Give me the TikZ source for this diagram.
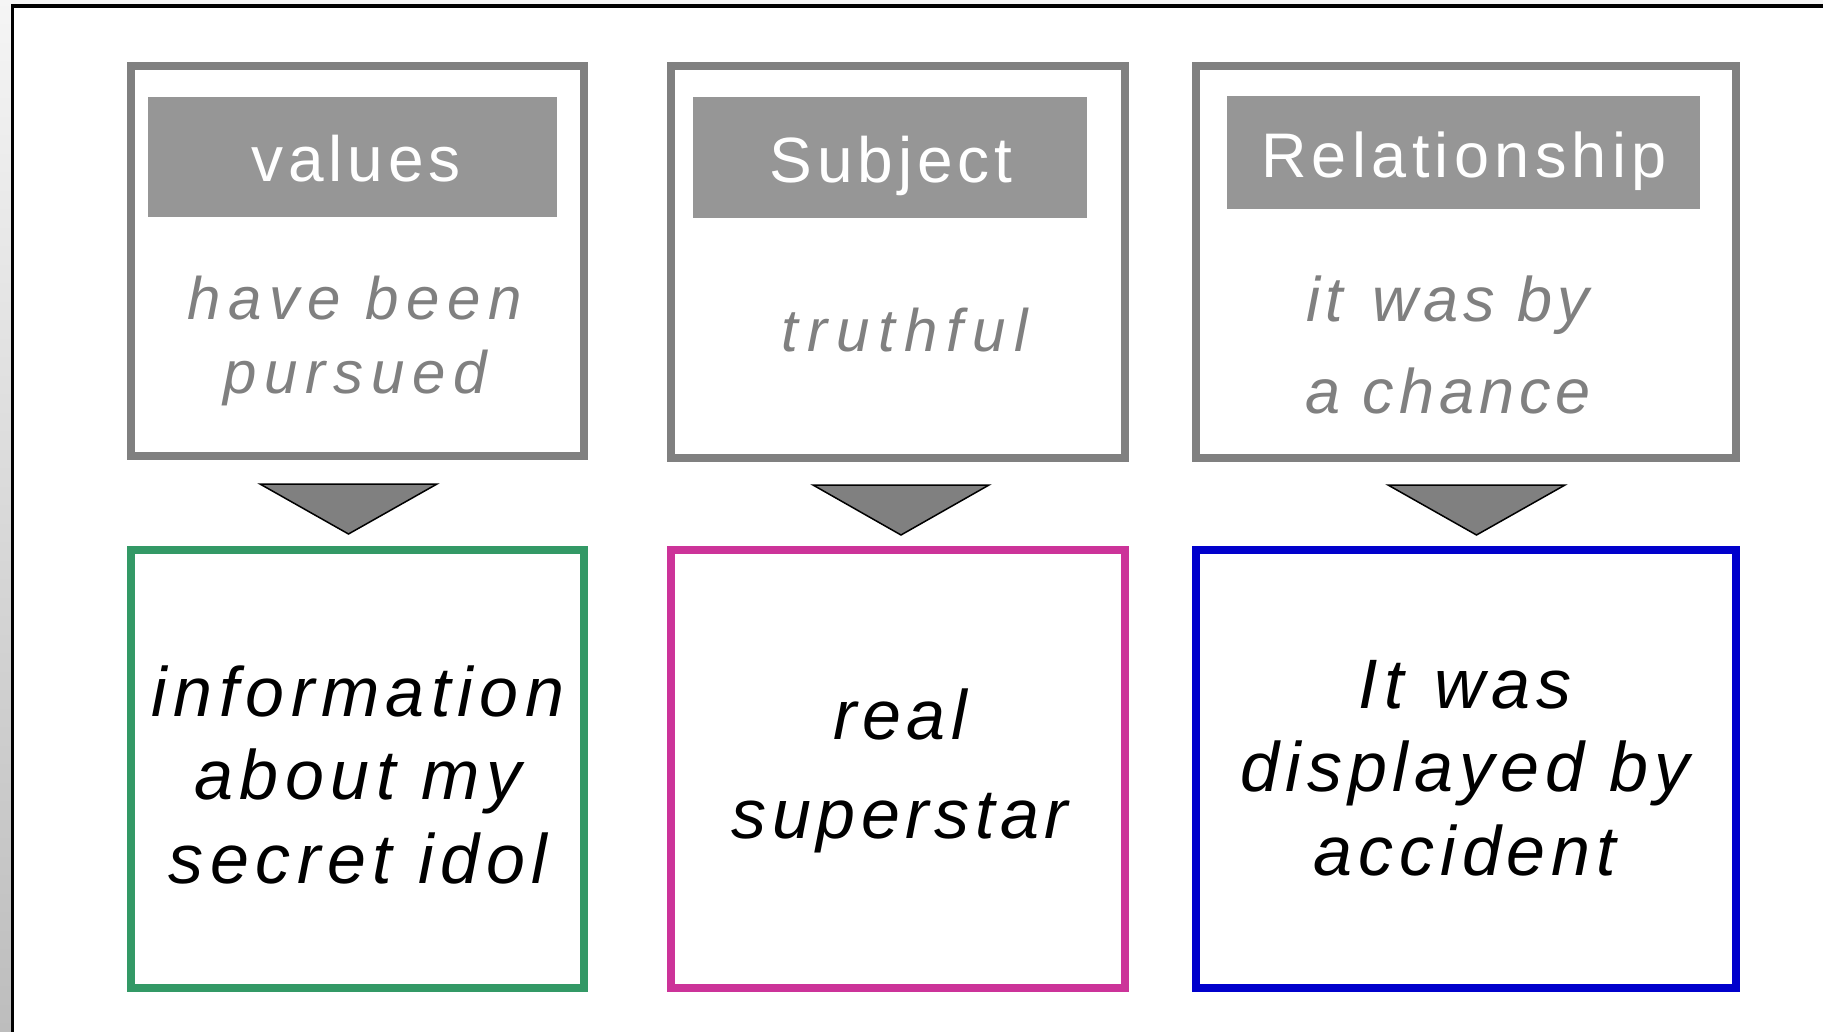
\documentclass[tikz,border=0pt]{standalone}
\usepackage{fontspec}
\setmainfont{Liberation Sans}
\definecolor{boxgray}{HTML}{808080}
\definecolor{hdgray}{HTML}{969696}
\definecolor{txtgray}{HTML}{808080}
\definecolor{trigray}{HTML}{808080}
\definecolor{grn}{HTML}{339966}
\definecolor{pnk}{HTML}{CC3399}
\definecolor{blu}{HTML}{0000CC}
\definecolor{stripgray}{HTML}{BDBDBD}
\begin{document}
\begin{tikzpicture}[x=1pt,y=-1pt,
  topbox/.style={draw=boxgray, line width=8pt, inner sep=0pt, outer sep=0pt, fill=white},
  botbox/.style={line width=8pt, inner sep=0pt, outer sep=0pt, fill=white},
  hdbox/.style={fill=hdgray, draw=none, inner sep=0pt, outer sep=0pt},
  hdtext/.style={text=white, inner sep=0pt, anchor=base},
  graytxt/.style={text=txtgray, inner sep=0pt, anchor=base, align=center},
  blacktxt/.style={text=black, inner sep=0pt, anchor=base, align=center},
  tri/.style={fill=trigray, draw=black, line width=1.5pt, line join=miter}
]
\useasboundingbox (0,0) rectangle (1823,1032);
\fill[white] (0,0) rectangle (1823,1032);
% frame
\fill[gray!8] (0,0) rectangle (1823,4.5);
\shade[top color=gray!8, bottom color=stripgray] (0,0) rectangle (11,1032);
\draw[line width=3.5pt, line join=miter] (12.5,1032) -- (12.5,6) -- (1823,6);

% top boxes
\node[topbox, minimum width=453pt, minimum height=390pt] (b1) at (357.5,261) {};
\node[topbox, minimum width=454pt, minimum height=392pt] (b2) at (898,262) {};
\node[topbox, minimum width=540pt, minimum height=392pt] (b3) at (1466,262) {};

% headers
\node[hdbox, minimum width=409pt, minimum height=120pt] (h1) at (352.5,157) {};
\node[hdbox, minimum width=394pt, minimum height=121pt] (h2) at (890,157.5) {};
\node[hdbox, minimum width=473.5pt, minimum height=113pt] (h3) at (1463.25,152.5) {};
\node[hdtext, font={\fontsize{64}{77}\selectfont\addfontfeature{LetterSpace=7.5}}] (h1t) at (356,182) {values};
\node[hdtext, font={\fontsize{64}{77}\selectfont\addfontfeature{LetterSpace=7.5}}] (h2t) at (891,183) {Subject};
\node[hdtext, font={\fontsize{63}{77}\selectfont\addfontfeature{LetterSpace=8.5}}] (h3t) at (1464,178) {Relationship};

% gray texts (base anchor = baseline of last line)
\node[graytxt, font={\fontsize{60}{74}\selectfont\itshape\addfontfeature{LetterSpace=13}}] (g1) at (355,393) {have been\\pursued};
\node[graytxt, font={\fontsize{60}{74}\selectfont\itshape\addfontfeature{LetterSpace=15}}] (g2) at (905,351) {truthful};
\node[graytxt, font={\fontsize{63}{92}\selectfont\itshape\addfontfeature{LetterSpace=8}}] (g3) at (1448,413) {it\kern7pt{} was by\\a chance};

% triangles
\draw[tri] (260,484) -- (437,484) -- (348.5,534) -- cycle;
\draw[tri] (813,485) -- (989,485) -- (901,535) -- cycle;
\draw[tri] (1388,485) -- (1565,485) -- (1476.5,535) -- cycle;

% bottom boxes
\node[botbox, draw=grn, minimum width=453pt, minimum height=438pt] (c1) at (357.5,769) {};
\node[botbox, draw=pnk, minimum width=454pt, minimum height=438pt] (c2) at (898,769) {};
\node[botbox, draw=blu, minimum width=540pt, minimum height=438pt] (c3) at (1466,769) {};

\node[blacktxt, font={\fontsize{70}{83.5}\selectfont\itshape\addfontfeature{LetterSpace=9.5}}] (t1) at (358,883) {information\\about my\\secret idol};
\node[blacktxt, font={\fontsize{70}{99}\selectfont\itshape\addfontfeature{LetterSpace=8}}] (t2) at (900,838) {real\\superstar};
\node[blacktxt, font={\fontsize{70}{83.5}\selectfont\itshape\addfontfeature{LetterSpace=8.5}}] (t3) at (1465,875) {It\kern6pt{} was\\displayed by\\accident};
\end{tikzpicture}
\end{document}
